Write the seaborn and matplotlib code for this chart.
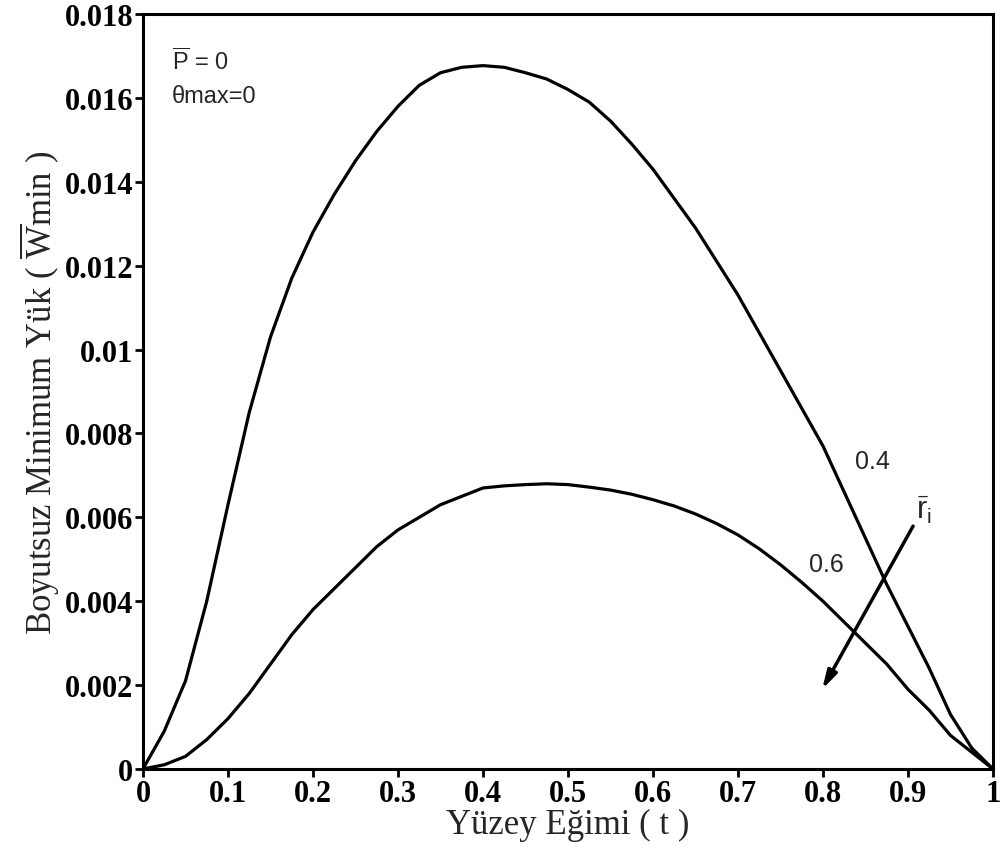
import matplotlib
matplotlib.use("Agg")
import matplotlib.pyplot as plt
import seaborn as sns
import pandas as pd

# ---- data ----
t_values = [0.0, 0.025, 0.05, 0.075, 0.1, 0.125, 0.15, 0.175, 0.2, 0.225,
            0.25, 0.275, 0.3, 0.325, 0.35, 0.375, 0.4, 0.425, 0.45, 0.475,
            0.5, 0.525, 0.55, 0.575, 0.6, 0.625, 0.65, 0.675, 0.7, 0.725,
            0.75, 0.775, 0.8, 0.825, 0.85, 0.875, 0.9, 0.925, 0.95, 0.975, 1.0]

w_ri_04 = [0.0, 0.0009, 0.0021, 0.0040, 0.0063, 0.0085, 0.0103, 0.0117, 0.0128, 0.0137,
           0.0145, 0.0152, 0.0158, 0.0163, 0.0166, 0.01673, 0.01677, 0.01673, 0.0166, 0.01645,
           0.0162, 0.0159, 0.01545, 0.0149, 0.0143, 0.0136, 0.0129, 0.0121, 0.0113, 0.0104,
           0.0095, 0.0086, 0.0077, 0.0066, 0.0055, 0.0044, 0.0034, 0.0024, 0.0013, 0.0005, 0.0]

w_ri_06 = [0.0, 0.0001, 0.0003, 0.0007, 0.0012, 0.0018, 0.0025, 0.0032, 0.0038, 0.0043,
           0.0048, 0.0053, 0.0057, 0.0060, 0.0063, 0.0065, 0.0067, 0.00675, 0.00678, 0.0068,
           0.00678, 0.00672, 0.00665, 0.00655, 0.00642, 0.00627, 0.00608, 0.00585, 0.00558, 0.00525,
           0.00487, 0.00445, 0.0040, 0.0035, 0.0030, 0.0025, 0.0019, 0.0014, 0.0008, 0.0004, 0.0]

series_labels = ["0.4", "0.6"]
x_ticks = [0, 0.1, 0.2, 0.3, 0.4, 0.5, 0.6, 0.7, 0.8, 0.9, 1.0]
x_tick_labels = ["0", "0.1", "0.2", "0.3", "0.4", "0.5", "0.6", "0.7", "0.8", "0.9", "1"]
y_ticks = [0, 0.002, 0.004, 0.006, 0.008, 0.01, 0.012, 0.014, 0.016, 0.018]
y_tick_labels = ["0", "0.002", "0.004", "0.006", "0.008", "0.01", "0.012", "0.014", "0.016", "0.018"]

df = pd.DataFrame({
    "t": t_values + t_values,
    "W": w_ri_04 + w_ri_06,
    "ri": [series_labels[0]] * len(t_values) + [series_labels[1]] * len(t_values),
})

# ---- style ----
sns.set_theme(style="ticks")
plt.rcParams["font.family"] = ["Liberation Serif", "DejaVu Serif"]
plt.rcParams["mathtext.fontset"] = "custom"
plt.rcParams["mathtext.rm"] = "Liberation Serif"
plt.rcParams["mathtext.bf"] = "Liberation Serif:bold"
plt.rcParams["mathtext.sf"] = "Liberation Sans"

fig = plt.figure(figsize=(10.02, 8.54), dpi=100)
ax = fig.add_axes([0.1427, 0.0984, 0.8483, 0.8840])

sns.lineplot(data=df, x="t", y="W", hue="ri", palette=["black", "black"],
             linewidth=2.3, legend=False, ax=ax, sort=False)

ax.set_xlim(0, 1)
ax.set_ylim(0, 0.018)
ax.set_xticks(x_ticks)
ax.set_xticklabels(x_tick_labels)
ax.set_yticks(y_ticks)
ax.set_yticklabels(y_tick_labels)
for lab in ax.get_xticklabels() + ax.get_yticklabels():
    lab.set_fontweight("bold")
    lab.set_fontsize(22)
ax.tick_params(axis="both", direction="out", length=6, width=2, colors="black", pad=1)
for s in ax.spines.values():
    s.set_linewidth(2.2)
    s.set_color("black")

ax.set_xlabel("Yüzey Eğimi ( t )", fontsize=25, labelpad=0)
ax.set_ylabel(r"Boyutsuz Minimum Yük ( $\overline{\mathrm{W}}$min )", fontsize=25, labelpad=2)

sans = ["Liberation Sans", "DejaVu Sans"]
ax.text(0.034, 0.01688, r"$\overline{\mathsf{P}}$ = 0", family=sans, fontsize=17, va="center")
ax.text(0.034, 0.01604, "θmax=0", family=sans, fontsize=17, va="center")
ax.text(0.838, 0.00734, "0.4", family=sans, fontsize=18, va="center")
ax.text(0.783, 0.00489, "0.6", family=sans, fontsize=18, va="center")
ax.text(0.909, 0.0062, r"$\bar{\mathsf{r}}_{\mathsf{i}}$", family=sans, fontsize=22, va="center")

ax.annotate("", xy=(0.799, 0.00190), xytext=(0.906, 0.00579),
            arrowprops=dict(arrowstyle="-|>,head_length=0.9,head_width=0.25",
                            color="black", lw=2.5, shrinkA=0, shrinkB=0))

fig.savefig("out.png", dpi=100)
